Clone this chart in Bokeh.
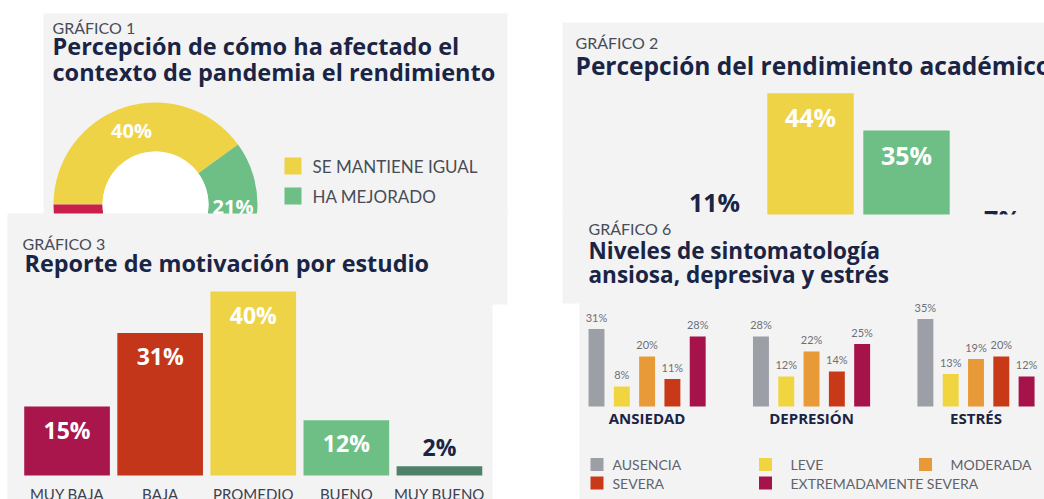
import math
from bokeh.plotting import figure
from bokeh.models import Range1d
from bokeh.embed import file_html
from bokeh.resources import INLINE
from bokeh.core.properties import value

# ---------------- data ----------------
g1_labels = ["SE MANTIENE IGUAL", "HA MEJORADO", "HA EMPEORADO"]
g1_values = [40, 21, 39]

g2_labels = ["BAJO", "PROMEDIO", "BUENO", "MUY BUENO"]
g2_values = [11, 44, 35, 7]

g3_labels = ["MUY BAJA", "BAJA", "PROMEDIO", "BUENO", "MUY BUENO"]
g3_values = [15, 31, 40, 12, 2]

g6_groups = ["ANSIEDAD", "DEPRESIÓN", "ESTRÉS"]
g6_levels = ["AUSENCIA", "LEVE", "MODERADA", "SEVERA", "EXTREMADAMENTE SEVERA"]
g6_ansiedad = [31, 8, 20, 11, 28]
g6_depresion = [28, 12, 22, 14, 25]
g6_estres = [35, 13, 19, 20, 12]

# ---------------- style ----------------
LIGHT = value("Lato")
HEAVY = value("Open Sans")
PANEL = "#f3f3f3"
NAVY = "#1a2444"
GREYTXT = "#474c58"
YELLOW = "#eed346"
GREEN = "#6dbf86"
DKGREEN = "#4f8169"
RED = "#c4361a"
CRIMSON = "#a8164b"
DONUT_RED = "#c91f48"
g1_colors = [YELLOW, GREEN, DONUT_RED]
g2_colors = [RED, YELLOW, GREEN, DKGREEN]
g3_colors = [CRIMSON, RED, YELLOW, GREEN, DKGREEN]
g6_colors = ["#9c9fa6", "#f0d540", "#e99a38", "#c83a17", "#a6134a"]

W, H = 1044, 499
def Y(r):
    # page-pixel row -> figure y
    return H - r

p = figure(width=W, height=H, x_range=Range1d(0, W), y_range=Range1d(0, H),
           x_axis_type=None, y_axis_type=None, output_backend="svg",
           toolbar_location=None, min_border=0)
p.grid.visible = False
p.outline_line_color = None
p.background_fill_color = "white"
p.border_fill_color = "white"


def txt(api, x, y, s, size, color, bold=False, align="left", baseline="middle",
        x_offset=0, y_offset=0, font=None):
    if font is None:
        font = HEAVY if bold else LIGHT
    api.text(x=x, y=y, text=s, text_font=font, text_font_size=value(f"{size}px"),
             text_color=color, text_font_style="bold" if bold else "normal",
             text_align=align, text_baseline=baseline, x_offset=x_offset, y_offset=y_offset)


def panel(l, r, t, b):
    p.quad(left=l, right=r, top=Y(t), bottom=Y(b), fill_color=PANEL, line_color=None)


# ================= GRÁFICO 1 (donut) =================
panel(43, 507, 13, 216)
txt(p, [52], [Y(27)], ["GRÁFICO 1"], 16, GREYTXT)
txt(p, [52], [Y(45)], ["Percepción de cómo ha afectado el"], 23.5, NAVY, bold=True)
txt(p, [52], [Y(71.5)], ["contexto de pandemia el rendimiento"], 23.5, NAVY, bold=True)

cx, cy, r_in, r_out = 155, Y(204), 53, 102
tot = sum(g1_values)
cum = [0]
for v in g1_values:
    cum.append(cum[-1] + v / tot)
starts = [math.pi - 2 * math.pi * c for c in cum[:-1]]
ends = [math.pi - 2 * math.pi * c for c in cum[1:]]
p.annular_wedge(x=cx, y=cy, inner_radius=r_in, outer_radius=r_out,
                inner_radius_units="screen", outer_radius_units="screen",
                start_angle=starts, end_angle=ends, direction="clock",
                fill_color=g1_colors, line_color=None)
p.scatter(x=cx, y=cy, size=2 * r_in, marker="circle", fill_color="white", line_color=None)
mids = [(a + b) / 2 for a, b in zip(starts, ends)]
rm = (r_in + r_out) / 2
txt(p, [cx + rm * math.cos(m) for m in mids], [cy + rm * math.sin(m) for m in mids],
    [f"{v}%" for v in g1_values], 20, "white", bold=True, align="center")
leg_y = [Y(165.5) - 30 * i for i in range(len(g1_labels))]
p.scatter(x=[292.5] * len(g1_labels), y=leg_y, marker="square", size=17,
          fill_color=g1_colors, line_color=None)
txt(p, [312] * len(g1_labels), leg_y, g1_labels, 17, GREYTXT)

# ================= GRÁFICO 2 =================
panel(562, 1044, 22, 216)
txt(p, [575], [Y(41.5)], ["GRÁFICO 2"], 16, GREYTXT)
txt(p, [575], [Y(65)], ["Percepción del rendimiento académico"], 24.5, NAVY, bold=True)
k2 = 4.14
s2 = p.subplot(x_source=Range1d(-0.5, 3.5), y_source=Range1d(0, 44),
               x_target=Range1d(666, 1050), y_target=Range1d(Y(275), Y(275 - 44 * k2)))
x2 = list(range(len(g2_values)))
s2.vbar(x=x2, top=g2_values, bottom=0, width=0.9, fill_color=g2_colors, line_color=None)
inside2 = [v > 11 for v in g2_values]
txt(s2, x2, g2_values, [f"{v}%" for v in g2_values], 25,
    ["white" if i else NAVY for i in inside2], bold=True, align="center",
    y_offset=[24 if i else -28 for i in inside2])

# ================= GRÁFICO 3 =================
panel(7, 507, 213, 304)
panel(7, 492, 303, 499)
txt(p, [22], [Y(243)], ["GRÁFICO 3"], 16, GREYTXT)
txt(p, [24], [Y(262)], ["Reporte de motivación por estudio"], 23.4, NAVY, bold=True)
k3 = 4.6
s3 = p.subplot(x_source=Range1d(-0.5, 4.5), y_source=Range1d(0, 40),
               x_target=Range1d(20, 485.5), y_target=Range1d(Y(475), Y(475 - 40 * k3)))
x3 = list(range(len(g3_values)))
s3.vbar(x=x3, top=g3_values, bottom=0, width=0.92, fill_color=g3_colors, line_color=None)
inside3 = [v > 11 for v in g3_values]
txt(s3, x3, g3_values, [f"{v}%" for v in g3_values], 23,
    ["white" if i else NAVY for i in inside3], bold=True, align="center",
    y_offset=[23 if i else -19 for i in inside3])
txt(s3, x3, [0] * len(x3), g3_labels, 15, "#3c4150", align="center", y_offset=18.5)

# ================= GRÁFICO 6 =================
panel(562, 1044, 214, 303)
panel(579, 1044, 302, 499)
txt(p, [588], [Y(228)], ["GRÁFICO 6"], 16, GREYTXT)
txt(p, [588], [Y(249.5)], ["Niveles de sintomatología"], 22.5, NAVY, bold=True)
txt(p, [588], [Y(274)], ["ansiosa, depresiva y estrés"], 22.5, NAVY, bold=True)
unit6, gap6 = 25.3, 6.5
s6 = p.subplot(x_source=Range1d(-1, 18), y_source=Range1d(0, 40),
               x_target=Range1d(596 - unit6, 596 + 18 * unit6),
               y_target=Range1d(Y(406), Y(406 - 40 * 2.5)))
g6_data = [g6_ansiedad, g6_depresion, g6_estres]
x6, v6, c6 = [], [], []
for g, vals in enumerate(g6_data):
    for i, v in enumerate(vals):
        x6.append(g * gap6 + i)
        v6.append(v)
        c6.append(g6_colors[i])
s6.vbar(x=x6, top=v6, bottom=0, width=0.63, fill_color=c6, line_color=None)
txt(s6, x6, v6, [f"{v}%" for v in v6], 11, "#6d7078", align="center", y_offset=-12)
txt(s6, [g * gap6 + 2 for g in range(len(g6_groups))], [0] * len(g6_groups), g6_groups,
    15, NAVY, bold=True, align="center", y_offset=11.5)
# legend
sq_x = [596.5, 765, 925]
tx_x = [612, 790, 950]
rows = [Y(464), Y(482.5)]
lx = [sq_x[i % 3] for i in range(len(g6_levels))]
tx = [tx_x[i % 3] for i in range(len(g6_levels))]
ly = [rows[i // 3] for i in range(len(g6_levels))]
p.scatter(x=lx, y=ly, marker="square", size=13, fill_color=g6_colors, line_color=None)
txt(p, tx, ly, g6_levels, 14, "#5f636b")

open("out.html", "w").write(file_html(p, INLINE))
